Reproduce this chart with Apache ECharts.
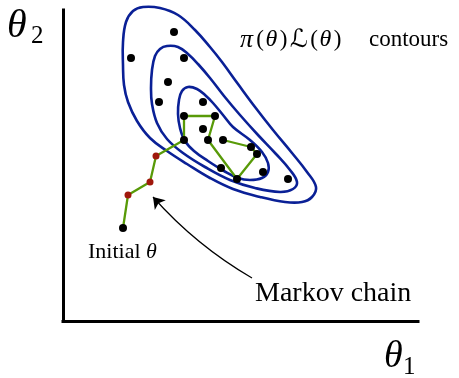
<!DOCTYPE html>
<html><head><meta charset="utf-8">
<script src="https://cdn.jsdelivr.net/npm/echarts@6/dist/echarts.min.js"></script>
<style>html,body{margin:0;padding:0;background:#fff}#c{width:459px;height:378px}</style>
</head><body><div id="c"></div>
<script>
// data units: theta1 0..355, theta2 0..311
var contourOuter = [[80,314],[97,313],[115,306],[132,291],[147,274],[159,259],[175,237],[192,214],[210,191],[229,168],[244,149],[253,134],[249,124],[239,119],[222,119],[197,124],[170,132],[147,143],[124,157],[104,170],[87,183],[74,200],[65,219],[61,236],[60,256],[60,279],[63,299],[70,310]];
var contourMiddle = [[104,275],[115,274],[125,267],[135,257],[147,243],[161,225],[177,206],[195,186],[213,167],[227,151],[234,139],[230,132],[217,129],[192,133],[167,141],[142,154],[120,168],[104,182],[94,198],[89,217],[88,233],[89,251],[92,265],[97,272]];
var contourInner = [[125,234],[134,232],[142,226],[150,218],[160,206],[170,194],[187,181],[199,169],[205,158],[205,149],[199,143],[187,141],[175,143],[161,150],[145,160],[131,170],[122,180],[117,193],[115,207],[116,221],[119,230]];
var chain = [[60,93],[65,126],[87,139],[93,165],[121,181],[121,205],[152,205],[145,181],[174,142],[194,167],[188,174],[160,181]];
var burnInIdx = [1,2,3];
var samples = [[111,289],[68,263],[121,263],[105,239],[96,219],[140,219],[140,192],[158,153],[200,149],[225,142]];
var arrowFrom = [189,43];
var arrowTo = [90,124];
var axisMax = [355,311];

var BLUE = '#0a2096', GREEN = '#589a08', RED = '#a0180c';
var chart = echarts.init(document.getElementById('c'), null, {renderer:'canvas'});

function contourSeries(pts){
  return {
    type:'custom', coordinateSystem:'cartesian2d', data:[[0,0]], silent:true, clip:false, z:1,
    renderItem:function(params, api){
      var p = pts.map(function(d){ return api.coord(d); });
      return {type:'polygon', shape:{points:p, smooth:0.4}, style:{fill:'none', stroke:BLUE, lineWidth:2.6}};
    }
  };
}
var blackPts = samples.concat(chain.filter(function(d,i){ return burnInIdx.indexOf(i) < 0; }));
var redPts = burnInIdx.map(function(i){ return chain[i]; });
var SERIF = 'Liberation Serif, DejaVu Serif, serif';

chart.setOption({
  animation:false,
  grid:{left:63, right:41, top:10, bottom:57},
  xAxis:{type:'value', min:0, max:axisMax[0], axisLine:{lineStyle:{color:'#000', width:3, cap:'square'}}, axisTick:{show:false}, axisLabel:{show:false}, splitLine:{show:false}},
  yAxis:{type:'value', min:0, max:axisMax[1], axisLine:{lineStyle:{color:'#000', width:3, cap:'square'}}, axisTick:{show:false}, axisLabel:{show:false}, splitLine:{show:false}},
  series:[
    contourSeries(contourOuter), contourSeries(contourMiddle), contourSeries(contourInner),
    {type:'line', data:chain, showSymbol:false, symbol:'none', z:2, lineStyle:{color:GREEN, width:2.3, opacity:1}},
    {type:'scatter', data:blackPts, symbolSize:8, z:3, itemStyle:{color:'#000', opacity:1}},
    {type:'scatter', data:redPts, symbolSize:7, z:3, itemStyle:{color:RED, opacity:1}},
    {type:'lines', coordinateSystem:'cartesian2d', z:2, symbol:['none','arrow'], symbolSize:11,
     data:[{coords:[arrowFrom, arrowTo]}], lineStyle:{color:'#000', width:1.2, curveness:0.08, opacity:1}}
  ],
  graphic:[
    {type:'text', left:7, top:6, style:{text:'θ', font:'italic 40px '+SERIF, fill:'#000'}},
    {type:'text', left:31, top:24, style:{text:'2', font:'25px '+SERIF, fill:'#000'}},
    {type:'text', left:384, top:338, style:{text:'θ', font:'italic 38px '+SERIF, fill:'#000'}},
    {type:'text', left:403, top:355, style:{text:'1', font:'25px '+SERIF, fill:'#000'}},
    {type:'text', left:240, top:27, style:{
      text:'{pi|π}{p|(}{th|θ}{p2|)}{c|ℒ}{p|(}{th|θ}{p2|)}{g| }{r|contours}', fill:'#000',
      rich:{
        pi:{fontFamily:SERIF, fontStyle:'italic', fontSize:26, width:19, align:'center'},
        p:{fontFamily:SERIF, fontSize:23, width:8, align:'center'},
        p2:{fontFamily:SERIF, fontSize:23, width:9, align:'center'},
        th:{fontFamily:SERIF, fontStyle:'italic', fontSize:24, width:15, align:'center'},
        c:{fontFamily:'DejaVu Serif, DejaVu Sans', fontStyle:'italic', fontSize:25, width:22, align:'center'},
        g:{fontFamily:SERIF, fontSize:22, width:27},
        r:{fontFamily:SERIF, fontSize:23}
      }}},
    {type:'text', left:255, top:280, style:{text:'Markov chain', font:'28px '+SERIF, fill:'#000'}},
    {type:'text', left:88, top:241, style:{text:'{r|Initial }{i|θ}', fill:'#000',
      rich:{r:{fontFamily:SERIF, fontSize:22}, i:{fontFamily:SERIF, fontStyle:'italic', fontSize:22}}}}
  ]
});
</script></body></html>
